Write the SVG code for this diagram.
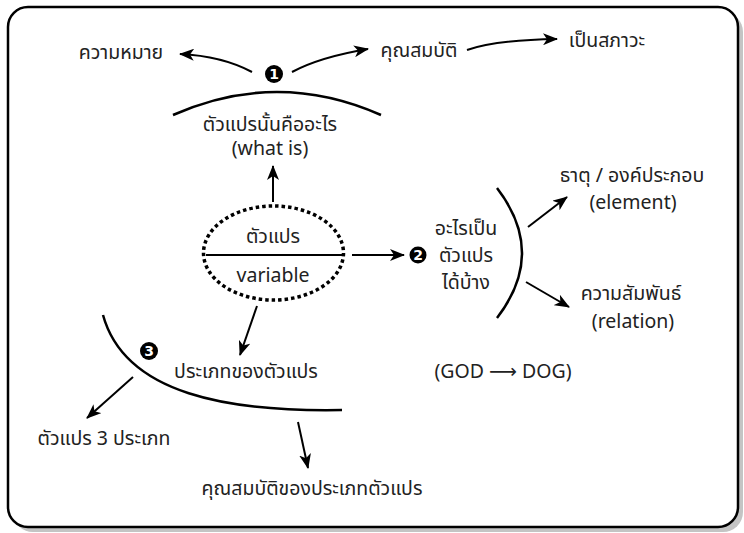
<svg xmlns="http://www.w3.org/2000/svg" width="744" height="533" viewBox="0 0 744 533">
<style>
text{font-family:"Noto Sans Thai","Noto Sans","DejaVu Sans",sans-serif;font-size:19.5px;fill:#222;text-anchor:middle}
.c{fill:none;stroke:#000;stroke-width:2}
.arc{fill:none;stroke:#000;stroke-width:2.5}
.num{fill:#fff;font-size:14px;font-weight:bold;font-family:"DejaVu Sans",sans-serif}
</style>
<defs>
<marker id="ah" markerUnits="userSpaceOnUse" markerWidth="16" markerHeight="12" refX="14" refY="6" orient="auto">
<path d="M0,0 L15,6 L0,12 L4,6 Z" fill="#000"/>
</marker>
</defs>
<rect x="13" y="12" width="730" height="520" rx="20" fill="#c4c4c4"/>
<rect x="8" y="7" width="730" height="520" rx="20" fill="#fff" stroke="#000" stroke-width="2.5"/>

<g id="connectors">
<path class="c" d="M252,72 Q222,56 180,54" marker-end="url(#ah)"/>
<path class="c" d="M292,72 Q320,57 368,49" marker-end="url(#ah)"/>
<path class="c" d="M467,50 Q495,40 557,39" marker-end="url(#ah)"/>
<path class="c" d="M273,202 L273,166" marker-end="url(#ah)"/>
<path class="c" d="M352,255 L404,255" marker-end="url(#ah)"/>
<path class="c" d="M528,227 L567,197" marker-end="url(#ah)"/>
<path class="c" d="M526,282 L569,307" marker-end="url(#ah)"/>
<path class="c" d="M257,306 L240,355" marker-end="url(#ah)"/>
<path class="c" d="M133,377 L87,418" marker-end="url(#ah)"/>
<path class="c" d="M298,422 L308,468" marker-end="url(#ah)"/>
</g>

<g id="arcs">
<path class="arc" d="M173,115 Q277,69 381,115"/>
<path class="arc" d="M497,188 Q547,253 497,318"/>
<path class="arc" d="M103,315 C125,395 230,412 342,410"/>
</g>

<g id="n-meaning"><text x="121" y="59">ความหมาย</text></g>
<g id="n1"><circle cx="274" cy="74" r="9" fill="#000"/><text class="num" x="274" y="79">1</text></g>
<g id="n-property"><text x="419" y="57">คุณสมบัติ</text></g>
<g id="n-state"><text x="607" y="47">เป็นสภาวะ</text></g>
<g id="n-whatis"><text x="270" y="131">ตัวแปรนั้นคืออะไร</text><text x="270" y="155">(what is)</text></g>
<g id="n-variable">
<ellipse cx="273.5" cy="253" rx="70" ry="47" fill="none" stroke="#000" stroke-width="3.5" stroke-dasharray="3.5 3"/>
<line x1="206" y1="255" x2="343" y2="255" stroke="#000" stroke-width="2"/>
<text x="273" y="243">ตัวแปร</text>
<text x="273" y="282">variable</text>
</g>
<g id="n2"><circle cx="418" cy="255" r="8.5" fill="#000"/><text class="num" x="418" y="260">2</text></g>
<g id="n-what"><text x="466" y="235">อะไรเป็น</text><text x="466" y="262">ตัวแปร</text><text x="466" y="289">ได้บ้าง</text></g>
<g id="n-element"><text x="632" y="182">ธาตุ / องค์ประกอบ</text><text x="633" y="209">(element)</text></g>
<g id="n-relation"><text x="631" y="300">ความสัมพันธ์</text><text x="633" y="328">(relation)</text></g>
<g id="n-goddog"><text x="503" y="378">(GOD ⟶ DOG)</text></g>
<g id="n3"><circle cx="149" cy="351" r="9" fill="#000"/><text class="num" x="149" y="356">3</text></g>
<g id="n-types"><text x="246" y="378">ประเภทของตัวแปร</text></g>
<g id="n-3types"><text x="104" y="445">ตัวแปร 3 ประเภท</text></g>
<g id="n-typeprop"><text x="312" y="495">คุณสมบัติของประเภทตัวแปร</text></g>
</svg>
